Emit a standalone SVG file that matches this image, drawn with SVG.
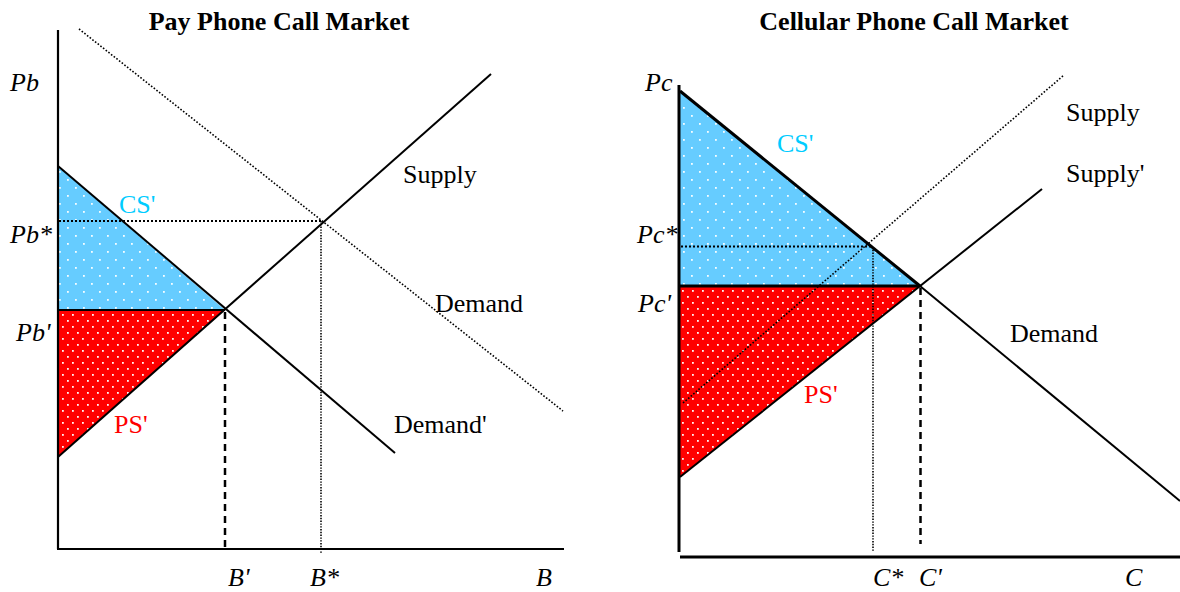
<svg xmlns="http://www.w3.org/2000/svg" width="1180" height="592" viewBox="0 0 1180 592">
<defs>
<pattern id="dotsBlue" width="16" height="16" patternUnits="userSpaceOnUse">
<rect width="16" height="16" fill="#66CCFF"/>
<rect x="3" y="3" width="1.8" height="1.8" fill="#ffffff" opacity="0.95"/>
<rect x="11" y="11" width="1.8" height="1.8" fill="#ffffff" opacity="0.95"/>
</pattern>
<pattern id="dotsRed" width="10" height="12" patternUnits="userSpaceOnUse">
<rect width="10" height="12" fill="#FF0000"/>
<rect x="2" y="2" width="1.8" height="1.8" fill="#ffffff" opacity="0.95"/>
<rect x="7" y="8" width="1.8" height="1.8" fill="#ffffff" opacity="0.95"/>
</pattern>
<style>
text{font-family:"Liberation Serif","Times New Roman",serif;font-size:26px;fill:#000}
.title{font-weight:bold;text-anchor:middle}
.it{font-style:italic}
.cs{fill:#00CCFF}
.ps{fill:#FF0000}
.ax{stroke:#000;stroke-width:2.2;fill:none}
.ln{stroke:#000;stroke-width:2;fill:none}
.thick{stroke:#000;stroke-width:3;fill:none}
.dot{stroke:#000;stroke-width:1.6;stroke-dasharray:1.6 1.8;fill:none}
.guide{stroke:#000;stroke-width:2;stroke-dasharray:2 2;fill:none}
.fineguide{stroke:#000;stroke-width:1.6;stroke-dasharray:1.4 1.4;fill:none}
.dash{stroke:#000;stroke-width:2.5;stroke-dasharray:7 5;fill:none}
</style>
</defs>

<g id="pay-phone-market">
<text class="title" x="279" y="30">Pay Phone Call Market</text>
<g id="left-areas">
<polygon points="58,166 225,310 58,310" fill="url(#dotsBlue)"/>
<polygon points="58,310 225,310 58,457" fill="url(#dotsRed)"/>
</g>
<g id="left-connectors">
<line class="ax" x1="58" y1="30" x2="58" y2="549"/>
<line class="ax" x1="57" y1="549" x2="564" y2="549"/>
<line class="dot" x1="79" y1="29" x2="563" y2="411"/>
<line class="guide" x1="59" y1="221" x2="321" y2="221"/>
<line class="fineguide" x1="321" y1="221" x2="321" y2="553"/>
<line class="dash" x1="225" y1="312" x2="225" y2="549"/>
<line class="ln" x1="58" y1="166" x2="395" y2="453"/>
<line class="ln" x1="58" y1="457" x2="491" y2="74"/>
<line class="ln" x1="58" y1="310" x2="225" y2="310"/>
</g>
<g id="left-labels">
<text class="it" x="10" y="91">Pb</text>
<text class="it" x="10" y="243">Pb*</text>
<text class="it" x="16" y="341">Pb'</text>
<text class="cs" x="119" y="213">CS'</text>
<text class="ps" x="114" y="433">PS'</text>
<text x="403" y="183">Supply</text>
<text x="435" y="312">Demand</text>
<text x="394" y="433">Demand'</text>
<text class="it" x="228" y="586">B'</text>
<text class="it" x="310" y="586">B*</text>
<text class="it" x="536" y="586">B</text>
</g>
</g>

<g id="cellular-market">
<text class="title" x="914" y="30">Cellular Phone Call Market</text>
<g id="right-areas">
<polygon points="680,91 920,286 680,286" fill="url(#dotsBlue)"/>
<polygon points="680,286 920,286 680,477" fill="url(#dotsRed)"/>
</g>
<g id="right-connectors">
<line class="thick" x1="679" y1="85" x2="679" y2="552"/>
<line class="thick" x1="680" y1="557" x2="1180" y2="557"/>
<line class="dot" x1="683" y1="403" x2="1064" y2="75"/>
<line class="guide" x1="681" y1="246.5" x2="872" y2="246.5"/>
<line class="fineguide" x1="873" y1="247" x2="873" y2="552"/>
<line class="dash" x1="920.5" y1="288" x2="920.5" y2="544"/>
<line class="ln" x1="680" y1="477" x2="1042" y2="189"/>
<line class="ln" x1="920" y1="286" x2="1180" y2="501"/>
<line class="thick" x1="680" y1="91" x2="920" y2="286"/>
<line class="thick" x1="680" y1="286" x2="920" y2="286"/>
</g>
<g id="right-labels">
<text class="it" x="645" y="91">Pc</text>
<text class="it" x="637" y="243">Pc*</text>
<text class="it" x="638" y="312">Pc'</text>
<text class="cs" x="777" y="152">CS'</text>
<text class="ps" x="804" y="403">PS'</text>
<text x="1066" y="121">Supply</text>
<text x="1066" y="182">Supply'</text>
<text x="1010" y="342">Demand</text>
<text class="it" x="873" y="586">C*</text>
<text class="it" x="919" y="586">C'</text>
<text class="it" x="1125" y="586">C</text>
</g>
</g>
</svg>
